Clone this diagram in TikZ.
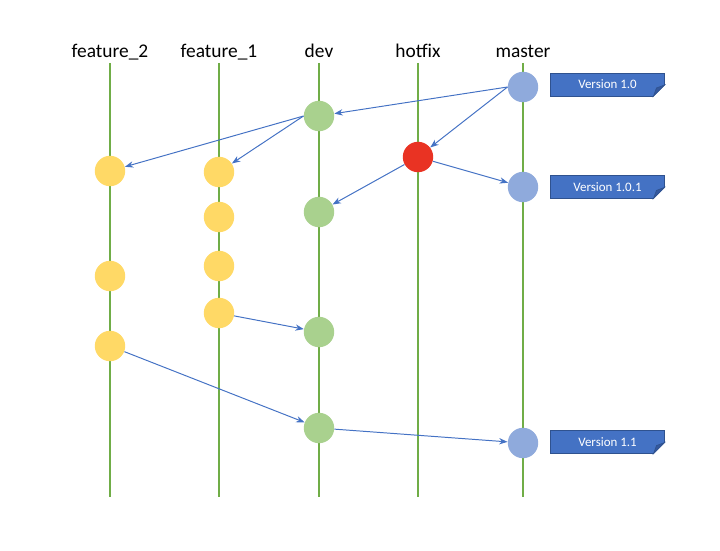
\documentclass[tikz,border=0pt]{standalone}
\usepackage{fontspec}
\setmainfont{Carlito}
\usetikzlibrary{arrows.meta, positioning}

\definecolor{branchgreen}{HTML}{70AD47}
\definecolor{devgreen}{HTML}{A9D18E}
\definecolor{featyellow}{HTML}{FFD966}
\definecolor{masterblue}{HTML}{8FAADC}
\definecolor{hotred}{HTML}{E93323}
\definecolor{linkblue}{HTML}{4472C4}
\definecolor{tagblue}{HTML}{4472C4}
\definecolor{tagborder}{HTML}{2F528F}
\definecolor{tagfold}{HTML}{34589E}

% folded corner of a version tag
\newcommand{\foldtag}[1]{%
  \fill[white] ([xshift=-0.28cm,yshift=-0.02cm]#1.south east) -- ([xshift=0.02cm,yshift=-0.02cm]#1.south east) -- ([xshift=0.02cm,yshift=0.28cm]#1.south east) -- cycle;
  \filldraw[fill=tagfold, draw=tagborder, line width=0.5pt] ([yshift=0.275cm]#1.south east) -- ([xshift=-0.275cm]#1.south east) -- ([xshift=-0.2cm,yshift=0.2cm]#1.south east) -- cycle;
}

\begin{document}
\begin{tikzpicture}[
    x=0.025cm, y=-0.025cm,
    branch/.style={
      draw=branchgreen,
      line width=1.4pt
    },
    branchlabel/.style={
      anchor=base,
      inner sep=0pt,
      font=\fontsize{13.8}{16}\selectfont
    },
    commit/.style={
      circle,
      minimum size=0.76cm,
      inner sep=0pt
    },
    devcommit/.style={commit, fill=devgreen},
    featcommit/.style={commit, fill=featyellow},
    mastercommit/.style={commit, fill=masterblue},
    hotcommit/.style={commit, fill=hotred},
    tag/.style={
      rectangle,
      minimum width=2.85cm,
      minimum height=0.57cm,
      inner sep=0pt,
      outer sep=0pt,
      fill=tagblue,
      draw=tagborder,
      line width=0.5pt,
      text=white,
      font=\fontsize{9.2}{11}\selectfont
    },
    arrow/.style={
      -{Stealth[length=6pt,width=4.5pt]},
      draw=linkblue,
      line width=0.7pt
    }
  ]
  \useasboundingbox (0,0) rectangle (720,550);

  % Branches
  \foreach \x/\name/\lbl in {110/ftwolbl/feature\_2, 219/fonelbl/feature\_1, 319/devlbl/dev, 418/hotlbl/hotfix, 523/masterlbl/master} {
    \node[branchlabel] (\name) at (\x,58) {\lbl};
    \draw[branch] (\x,63) -- (\x,497);
  }

  % Commits
  \node[mastercommit] (m1) at (523,87) {};
  \node[mastercommit] (m2) at (523,187) {};
  \node[mastercommit] (m3) at (523,443) {};
  \node[hotcommit] (hf) at (418,157) {};
  \node[devcommit] (d1) at (319,116) {};
  \node[devcommit] (d2) at (319,212) {};
  \node[devcommit] (d3) at (319,332) {};
  \node[devcommit] (d4) at (319,428) {};
  \node[featcommit] (f1a) at (219,172) {};
  \node[featcommit] (f1b) at (219,217) {};
  \node[featcommit] (f1c) at (219,266) {};
  \node[featcommit] (f1d) at (219,313) {};
  \node[featcommit] (f2a) at (110,171) {};
  \node[featcommit] (f2b) at (110,276) {};
  \node[featcommit] (f2c) at (110,346) {};

  % Merges
  \draw[arrow] (m1.west) -- (d1);
  \draw[arrow] (m1.west) -- (hf);
  \draw[arrow] (hf) -- (m2);
  \draw[arrow] (hf) -- (d2);
  \draw[arrow] (d1.west) -- (f2a);
  \draw[arrow] (d1.west) -- (f1a);
  \draw[arrow] (f1d) -- (d3);
  \draw[arrow] (f2c) -- (d4);
  \draw[arrow] (d4) -- (m3);

  % Version tags
  \node[tag, right=0.3cm of m1, yshift=0.06cm] (v10) {Version 1.0};
  \node[tag, right=0.3cm of m2] (v101) {Version 1.0.1};
  \node[tag, right=0.3cm of m3, yshift=0.02cm] (v11) {Version 1.1};
  \foldtag{v10}
  \foldtag{v101}
  \foldtag{v11}

\end{tikzpicture}
\end{document}
